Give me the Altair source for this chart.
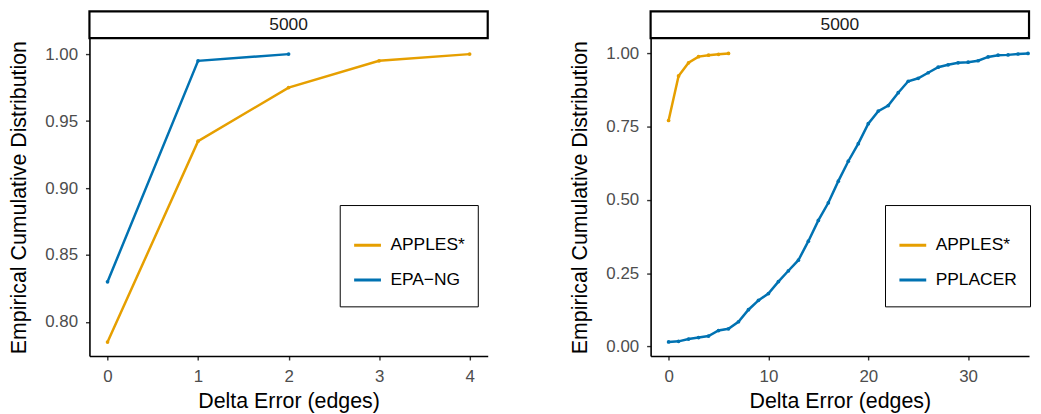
import altair as alt
import pandas as pd

# ---- data ----
left_apples_x = [0, 1, 2, 3, 4]
left_apples_y = [0.785, 0.935, 0.975, 0.995, 1.000]
left_epa_x = [0, 1, 2]
left_epa_y = [0.830, 0.995, 1.000]

right_apples_x = [0, 1, 2, 3, 4, 5, 6]
right_apples_y = [0.771, 0.923, 0.968, 0.989, 0.994, 0.997, 1.000]
right_pplacer_x = list(range(0, 37))
right_pplacer_y = [0.015, 0.017, 0.025, 0.030, 0.035, 0.054, 0.060, 0.084, 0.125,
                   0.157, 0.180, 0.221, 0.258, 0.294, 0.359, 0.430, 0.490, 0.564,
                   0.632, 0.692, 0.760, 0.803, 0.822, 0.866, 0.905, 0.915, 0.934,
                   0.953, 0.961, 0.968, 0.970, 0.975, 0.988, 0.994, 0.995, 0.998,
                   1.000]

left_methods = ["APPLES*", "EPA\u2212NG"]
right_methods = ["APPLES*", "PPLACER"]
strip_label = "5000"
x_title = "Delta Error (edges)"
y_title = "Empirical Cumulative Distribution"

ORANGE = "#E69F00"
BLUE = "#0072B2"
FONT = "Liberation Sans"

left_df = pd.concat([
    pd.DataFrame({"x": left_apples_x, "y": left_apples_y, "method": left_methods[0]}),
    pd.DataFrame({"x": left_epa_x, "y": left_epa_y, "method": left_methods[1]}),
])
right_df = pd.concat([
    pd.DataFrame({"x": right_apples_x, "y": right_apples_y, "method": right_methods[0]}),
    pd.DataFrame({"x": right_pplacer_x, "y": right_pplacer_y, "method": right_methods[1]}),
])

W_L, W_R, H = 401, 381, 320
STRIP_H = 27


def panel(df, methods, xdom, xticks, ydom, yticks, width, legend_x):
    cscale = alt.Scale(domain=methods, range=[ORANGE, BLUE])
    color = alt.Color(
        "method:N",
        scale=cscale,
        legend=alt.Legend(
            title=" ", titleFontSize=10, titlePadding=4,
            orient="none", legendX=legend_x, legendY=168,
            symbolType="stroke", symbolSize=729, symbolStrokeWidth=3,
            labelFont=FONT, labelFontSize=17.5, labelColor="black",
            labelOffset=8, rowPadding=8, clipHeight=27, padding=13,
            columnPadding=0,
            strokeColor="black", fillColor="white",
        ),
    )
    x = alt.X("x:Q", scale=alt.Scale(domain=xdom, nice=False, zero=False),
              axis=alt.Axis(values=xticks, title=x_title, format="d"))
    y = alt.Y("y:Q", scale=alt.Scale(domain=ydom, nice=False, zero=False),
              axis=alt.Axis(values=yticks, title=y_title, format=".2f"))
    base = alt.Chart(df)
    lines = base.mark_line(strokeWidth=2.5).encode(x=x, y=y, color=color, detail="method:N")
    pts = base.mark_circle(size=14, opacity=1).encode(
        x=x, y=y, color=alt.Color("method:N", legend=None, scale=cscale))
    strip = alt.Chart(pd.DataFrame({"t": [strip_label]})).mark_rect(
        fill="white", stroke="black", strokeWidth=2.2, clip=False
    ).encode(x=alt.value(0), x2=alt.value(width), y=alt.value(-STRIP_H), y2=alt.value(0))
    strip_text = alt.Chart(pd.DataFrame({"t": [strip_label]})).mark_text(
        font=FONT, fontSize=17.5, color="#1A1A1A", baseline="middle", align="center", clip=False
    ).encode(text="t:N", x=alt.value(width / 2), y=alt.value(-STRIP_H / 2))
    return alt.layer(lines, pts, strip, strip_text).properties(width=width, height=H)


left = panel(left_df, left_methods, [-0.2, 4.2], [0, 1, 2, 3, 4],
             [0.7746, 1.0119], [0.80, 0.85, 0.90, 0.95, 1.00], W_L, 252)
right = panel(right_df, right_methods, [-1.8, 36.1], [0, 10, 20, 30],
              [-0.033, 1.052], [0.0, 0.25, 0.5, 0.75, 1.0], W_R, 236)

chart = alt.hconcat(left, right, spacing=80).resolve_scale(
    color="independent", x="independent", y="independent"
).resolve_legend(color="independent").configure_view(
    stroke=None
).configure_axis(
    domainColor="black", domainWidth=1.6, tickColor="#333333", tickWidth=1.4, tickSize=4,
    labelFont=FONT, labelFontSize=17, labelColor="#4D4D4D", labelPadding=8,
    titleFont=FONT, titleFontSize=21.5, titleFontWeight="normal", titleColor="black",
    titlePadding=14, grid=False,
).configure_axisX(labelPadding=9, titlePadding=6).properties(
    padding={"left": 0, "top": 0, "right": 0, "bottom": 0}
)

chart.save("out.html", embed_options={"renderer": "svg", "actions": False})
